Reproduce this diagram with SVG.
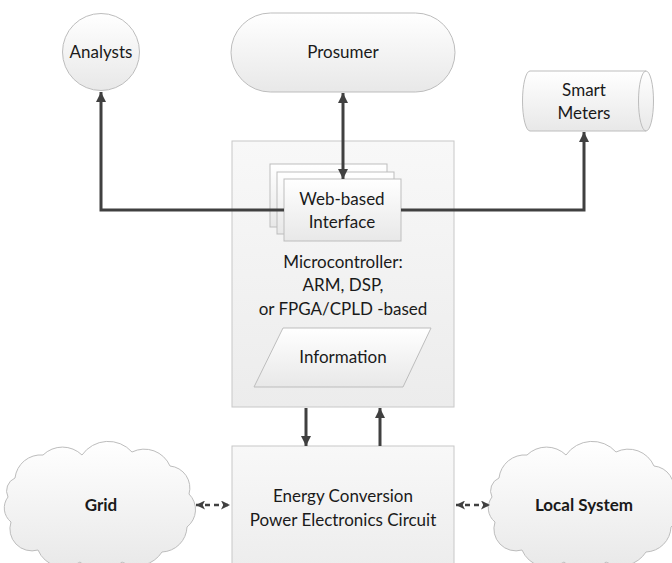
<svg xmlns="http://www.w3.org/2000/svg" width="672" height="563" viewBox="0 0 672 563">
  <style>
    .shape { stroke: #bdbdbd; stroke-width: 1; fill: url(#softFill); }
    .panel { stroke: #c8c8c8; stroke-width: 1; fill: url(#panelFill); }
    .label { font-family: Lato, "Liberation Sans", sans-serif; font-size: 17px; fill: #1a1a1a; text-anchor: middle; }
    .bold { font-weight: bold; }
    .link { stroke: #404040; stroke-width: 3; fill: none; }
    .dash { stroke: #404040; stroke-width: 2.5; fill: none; stroke-dasharray: 5 4; }
  </style>
  <defs>
    <linearGradient id="softFill" x1="0" y1="0" x2="0" y2="1">
      <stop offset="0" stop-color="#ffffff"/>
      <stop offset="1" stop-color="#e8e8e8"/>
    </linearGradient>
    <linearGradient id="panelFill" x1="0" y1="0" x2="0" y2="1">
      <stop offset="0" stop-color="#f8f8f8"/>
      <stop offset="1" stop-color="#ececec"/>
    </linearGradient>
    <marker id="head" viewBox="0 0 10 10" refX="10" refY="5" markerWidth="10" markerHeight="10" markerUnits="userSpaceOnUse" orient="auto-start-reverse">
      <path d="M0,0 L10,5 L0,10 Z" fill="#404040"/>
    </marker>
    <marker id="headSmall" viewBox="0 0 10 10" refX="10" refY="5" markerWidth="9" markerHeight="9" markerUnits="userSpaceOnUse" orient="auto-start-reverse">
      <path d="M0,0 L10,5 L0,10 L2.5,5 Z" fill="#404040"/>
    </marker>
    <path id="cloud" d="M15,478 A26,26 0 0 1 43,455 A28,28 0 0 1 82,455 A32,32 0 0 1 132,452 A28,28 0 0 1 170,466 A22,22 0 0 1 189,494 A22,22 0 0 1 187,527 A26,26 0 0 1 162,552 A30,30 0 0 1 122,562 A30,30 0 0 1 80,562 A28,28 0 0 1 38,550 A22,22 0 0 1 11,522 A18,18 0 0 1 8,497 A14,14 0 0 1 15,478 Z"/>
  </defs>

  <!-- outer nodes -->
  <g id="analysts">
    <circle class="shape" cx="101" cy="52" r="38.5"/>
    <text class="label" x="101" y="58">Analysts</text>
  </g>

  <g id="prosumer">
    <rect class="shape" x="231" y="13" width="224" height="79" rx="39.5" ry="39.5"/>
    <text class="label" x="343" y="58">Prosumer</text>
  </g>

  <g id="smart-meters">
    <path class="shape" d="M530,71 L646,71 A7.5,30 0 0 1 646,131 L530,131 A7.5,30 0 0 1 530,71 Z"/>
    <path d="M646,71 A7.5,30 0 0 0 646,131" fill="none" stroke="#bdbdbd"/>
    <text class="label" x="584" y="96">Smart</text>
    <text class="label" x="584" y="119">Meters</text>
  </g>

  <g id="microcontroller">
    <rect class="panel" x="232" y="141" width="222" height="266"/>
    <text class="label" x="343" y="268">Microcontroller:</text>
    <text class="label" x="343" y="291">ARM, DSP,</text>
    <text class="label" x="343" y="315">or FPGA/CPLD -based</text>
  </g>

  <g id="web-interface">
    <rect class="shape" x="270" y="164" width="117" height="63"/>
    <rect class="shape" x="277" y="172" width="117" height="62"/>
    <rect class="shape" x="284" y="179" width="117" height="62"/>
    <text class="label" x="342" y="205">Web-based</text>
    <text class="label" x="342" y="228">Interface</text>
  </g>

  <g id="information">
    <path class="shape" d="M283,328 L431,328 L403,387 L254,387 Z"/>
    <text class="label" x="343" y="363">Information</text>
  </g>

  <g id="energy-conversion">
    <rect class="panel" x="232" y="446" width="222" height="130"/>
    <text class="label" x="343" y="502">Energy Conversion</text>
    <text class="label" x="343" y="526">Power Electronics Circuit</text>
  </g>

  <g id="grid">
    <use href="#cloud" class="shape"/>
    <text class="label bold" x="101" y="511">Grid</text>
  </g>

  <g id="local-system">
    <use href="#cloud" class="shape" transform="translate(484,0)"/>
    <text class="label bold" x="584" y="511">Local System</text>
  </g>

  <!-- connectors -->
  <g id="connectors">
    <path class="link" d="M284,210 L101,210 L101,92" marker-end="url(#head)"/>
    <path class="link" d="M401,210 L584,210 L584,132" marker-end="url(#head)"/>
    <path class="link" d="M343,93 L343,179" marker-start="url(#head)" marker-end="url(#head)"/>
    <path class="link" d="M306,408 L306,446" marker-end="url(#head)"/>
    <path class="link" d="M380,446 L380,408" marker-end="url(#head)"/>
    <path class="dash" d="M196,505 L230,505" marker-start="url(#headSmall)" marker-end="url(#headSmall)"/>
    <path class="dash" d="M456,505 L490,505" marker-start="url(#headSmall)" marker-end="url(#headSmall)"/>
  </g>
</svg>
